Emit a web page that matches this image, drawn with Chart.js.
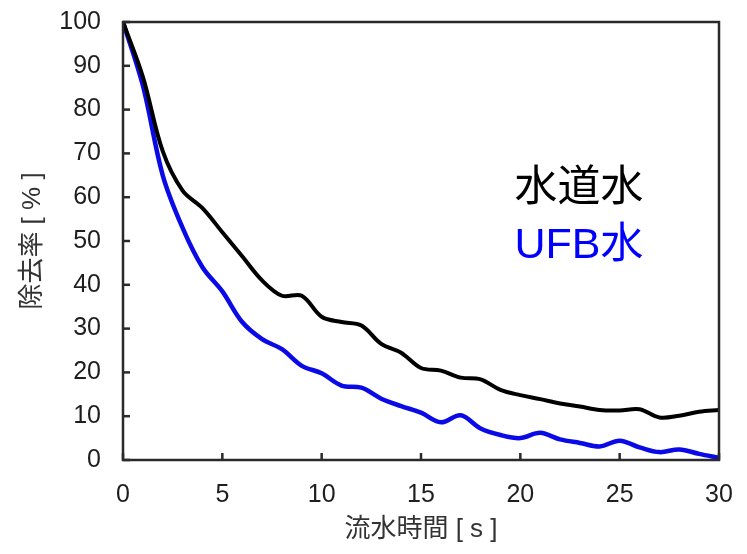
<!DOCTYPE html>
<html>
<head>
<meta charset="utf-8">
<script src="https://cdn.jsdelivr.net/npm/chart.js@4/dist/chart.umd.min.js"></script>
<style>
  html, body { margin: 0; padding: 0; background: #ffffff; }
  #wrap { width: 747px; height: 554px; }
</style>
</head>
<body>
<div id="wrap"><canvas id="c" width="747" height="554"></canvas></div>
<script>
// Flow time [s]
const flowTime = [0,1,2,3,4,5,6,7,8,9,10,11,12,13,14,15,16,17,18,19,20,21,22,23,24,25,26,27,28,29,30];
// Removal rate [%] — tap water
const tapWater = [100,87.5,70.5,61.5,57.5,52,46.5,41,37.5,37.5,32.7,31.5,30.7,26.5,24.5,21,20.4,18.8,18.4,16,14.8,13.9,12.9,12.2,11.4,11.3,11.6,9.7,10.1,11,11.4];
// Removal rate [%] — UFB water
const ufbWater = [100,85.5,65,53,44,38.5,31.5,27.6,25.3,21.5,19.8,17,16.5,14,12.3,10.8,8.6,10.2,7.2,5.7,5,6.2,4.7,3.9,3.1,4.4,2.9,1.8,2.4,1.4,0.5];
const xTicks = [0,5,10,15,20,25,30];
const yTicks = [0,10,20,30,40,50,60,70,80,90,100];

const seriesNames = ['水道水', 'UFB水'];
const seriesColors = ['#000000', '#0a0ae6'];
const labelColors = ['#000000', '#0000ff'];

const FONT = "'Liberation Sans', Arial, 'Noto Sans CJK JP', sans-serif";

const toPoints = ys => flowTime.map((t, i) => ({ x: t, y: ys[i] }));

// Frame around the plot and inward tick marks
const frameAndTicks = {
  id: 'frameAndTicks',
  afterDatasetsDraw(chart) {
    const { ctx, chartArea: a, scales: { x, y } } = chart;
    ctx.save();
    ctx.strokeStyle = '#2a2a2a';
    ctx.lineWidth = 2.5;
    ctx.lineCap = 'butt';
    xTicks.forEach(v => {
      const px = x.getPixelForValue(v);
      ctx.beginPath(); ctx.moveTo(px, a.bottom); ctx.lineTo(px, a.bottom - 7); ctx.stroke();
    });
    yTicks.forEach(v => {
      const py = y.getPixelForValue(v);
      ctx.beginPath(); ctx.moveTo(a.left, py); ctx.lineTo(a.left + 7, py); ctx.stroke();
    });
    ctx.strokeRect(a.left, a.top, a.right - a.left, a.bottom - a.top);
    ctx.restore();
  }
};

// Series names written inside the plot
const seriesText = {
  id: 'seriesText',
  afterDraw(chart) {
    const { ctx, chartArea: a } = chart;
    ctx.save();
    ctx.textAlign = 'center';
    ctx.textBaseline = 'middle';
    ctx.font = "43px 'Liberation Sans', Arial, 'Noto Sans CJK JP', sans-serif";
    const cx = a.left + (a.right - a.left) * 0.765;
    const rows = [a.top + (a.bottom - a.top) * 0.381, a.top + (a.bottom - a.top) * 0.511];
    chart.data.datasets.forEach((ds, i) => {
      ctx.fillStyle = labelColors[i];
      ctx.fillText(ds.label, cx, rows[i]);
    });
    ctx.restore();
  }
};

new Chart(document.getElementById('c'), {
  type: 'line',
  data: {
    datasets: [
      { label: seriesNames[0], data: toPoints(tapWater), borderColor: seriesColors[0], borderWidth: 4, pointRadius: 0, tension: 0.35, fill: false },
      { label: seriesNames[1], data: toPoints(ufbWater), borderColor: seriesColors[1], borderWidth: 4.5, pointRadius: 0, tension: 0.35, fill: false }
    ]
  },
  options: {
    responsive: false,
    animation: false,
    events: [],
    layout: { padding: { top: 22, right: 28, left: 17, bottom: 0 } },
    plugins: { legend: { display: false }, tooltip: { enabled: false } },
    scales: {
      x: {
        type: 'linear', min: 0, max: 30,
        afterBuildTicks: s => { s.ticks = xTicks.map(v => ({ value: v })); },
        afterFit: s => { s.height = 94; s.paddingLeft = 0; s.paddingRight = 0; },
        grid: { display: false, drawTicks: false },
        border: { display: false },
        ticks: { padding: 20, color: '#1e1e1e', font: { family: FONT, size: 25 }, maxRotation: 0 },
        title: { display: true, text: '流水時間 [ s ]', color: '#333333', font: { family: FONT, size: 26 }, padding: { top: 4, bottom: 9 } }
      },
      y: {
        type: 'linear', min: 0, max: 100,
        afterBuildTicks: s => { s.ticks = yTicks.map(v => ({ value: v })); },
        afterFit: s => { s.width = 106; s.paddingTop = 0; s.paddingBottom = 0; },
        grid: { display: false, drawTicks: false },
        border: { display: false },
        ticks: { padding: 22, color: '#1e1e1e', font: { family: FONT, size: 25 } },
        title: { display: true, text: '除去率 [ % ]', color: '#333333', font: { family: FONT, size: 26 }, padding: { top: 0, bottom: 0 } }
      }
    }
  },
  plugins: [frameAndTicks, seriesText]
});
</script>
</body>
</html>
